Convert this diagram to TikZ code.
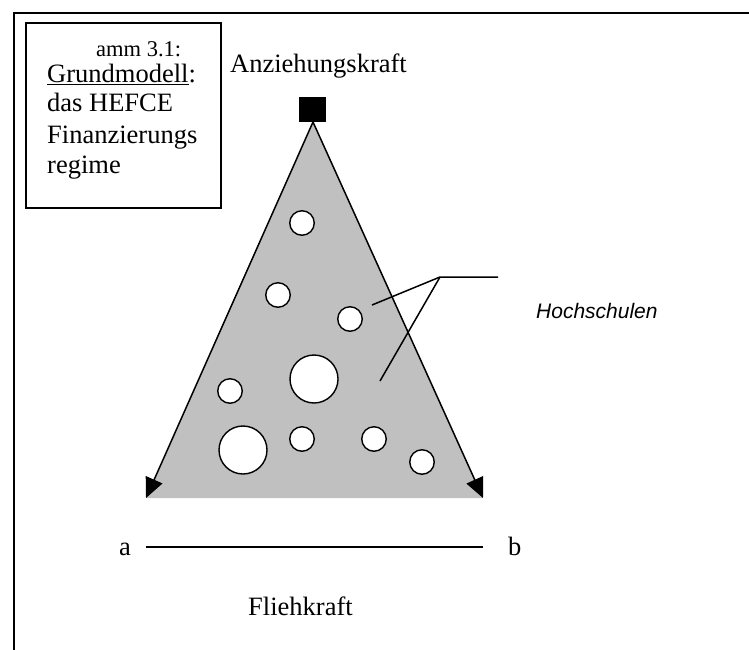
\documentclass[tikz,border=0pt]{standalone}
\usepackage{fontspec}
\setmainfont{Liberation Serif}
\newfontfamily\labelsans{Liberation Sans}
\usetikzlibrary{arrows.meta}
\definecolor{fieldgray}{HTML}{C0C0C0}
\tikzset{
  serif/.style={font=\fontsize{26.5}{30.5}\selectfont, inner sep=0pt, anchor=base west},
  smallserif/.style={font=\fontsize{22.5}{26}\selectfont, inner sep=0pt, anchor=base west},
  force/.style={line width=1.5pt, -{Triangle[length=20pt,width=18pt]}},
  hole/.style={circle, draw, fill=white, line width=1.4pt, inner sep=0pt},
  leader/.style={line width=1.5pt},
}
\begin{document}
\begin{tikzpicture}[x=1pt,y=-1pt]
\useasboundingbox (0,0) rectangle (749,650);

% outer frame (top and left edges visible)
\draw[line width=2.5pt] (760,13) -- (14,13) -- (14,660);

% title box
\node[draw, line width=1.3pt, minimum width=195pt, minimum height=185pt, inner sep=0pt] (titlebox) at (123.5,115.5) {};
\node[smallserif] (t0) at (96,57) {amm 3.1:};
\node[serif] (t1) at (47,83) {\underline{Grundmodell}:};
\node[serif] (t2) at (47,112) {das HEFCE};
\node[serif] (t3) at (47,143) {Finanzierungs};
\node[serif] (t4) at (47,173) {regime};

% attraction pole
\node[serif] (anz) at (230,73) {Anziehungskraft};
\node[rectangle, fill=black, minimum width=27pt, minimum height=25pt, inner sep=0pt] (pole) at (312.5,109.5) {};
\coordinate (apex) at (313,122);
\coordinate (cornerA) at (146,498);
\coordinate (cornerB) at (483,498);

% field triangle
\fill[fieldgray] (apex) -- (cornerA) -- (cornerB) -- cycle;
\draw[force] (apex) -- (cornerA);
\draw[force] (apex) -- (cornerB);

% institutions
\node[hole, minimum size=24.5pt] (h1) at (302,223) {};
\node[hole, minimum size=24.5pt] (h2) at (278,295) {};
\node[hole, minimum size=24.5pt] (h3) at (350,319) {};
\node[hole, minimum size=48pt] (h4) at (314,379) {};
\node[hole, minimum size=24.5pt] (h5) at (230,391) {};
\node[hole, minimum size=48pt] (h6) at (243,450) {};
\node[hole, minimum size=24.5pt] (h7) at (302,439) {};
\node[hole, minimum size=24.5pt] (h8) at (374,439) {};
\node[hole, minimum size=24.5pt] (h9) at (422,462) {};

% label with leader lines
\node[font=\labelsans\itshape\fontsize{21}{25}\selectfont, inner sep=0pt, anchor=base west] (hs) at (536,318) {Hochschulen};
\coordinate (lead) at (498,277);
\coordinate (fork) at (440,277);
\coordinate (tipA) at (372,305);
\coordinate (tipB) at (380,381);
\draw[leader] (lead) -- (fork) -- (tipA);
\draw[leader] (fork) -- (tipB);

% centrifugal axis
\node[serif] (a) at (119,555) {a};
\node[serif] (b) at (508,555) {b};
\coordinate (axisA) at (146,547);
\coordinate (axisB) at (483,547);
\draw[line width=2pt] (axisA) -- (axisB);
\node[serif] (flieh) at (248,615) {Fliehkraft};
\end{tikzpicture}
\end{document}
